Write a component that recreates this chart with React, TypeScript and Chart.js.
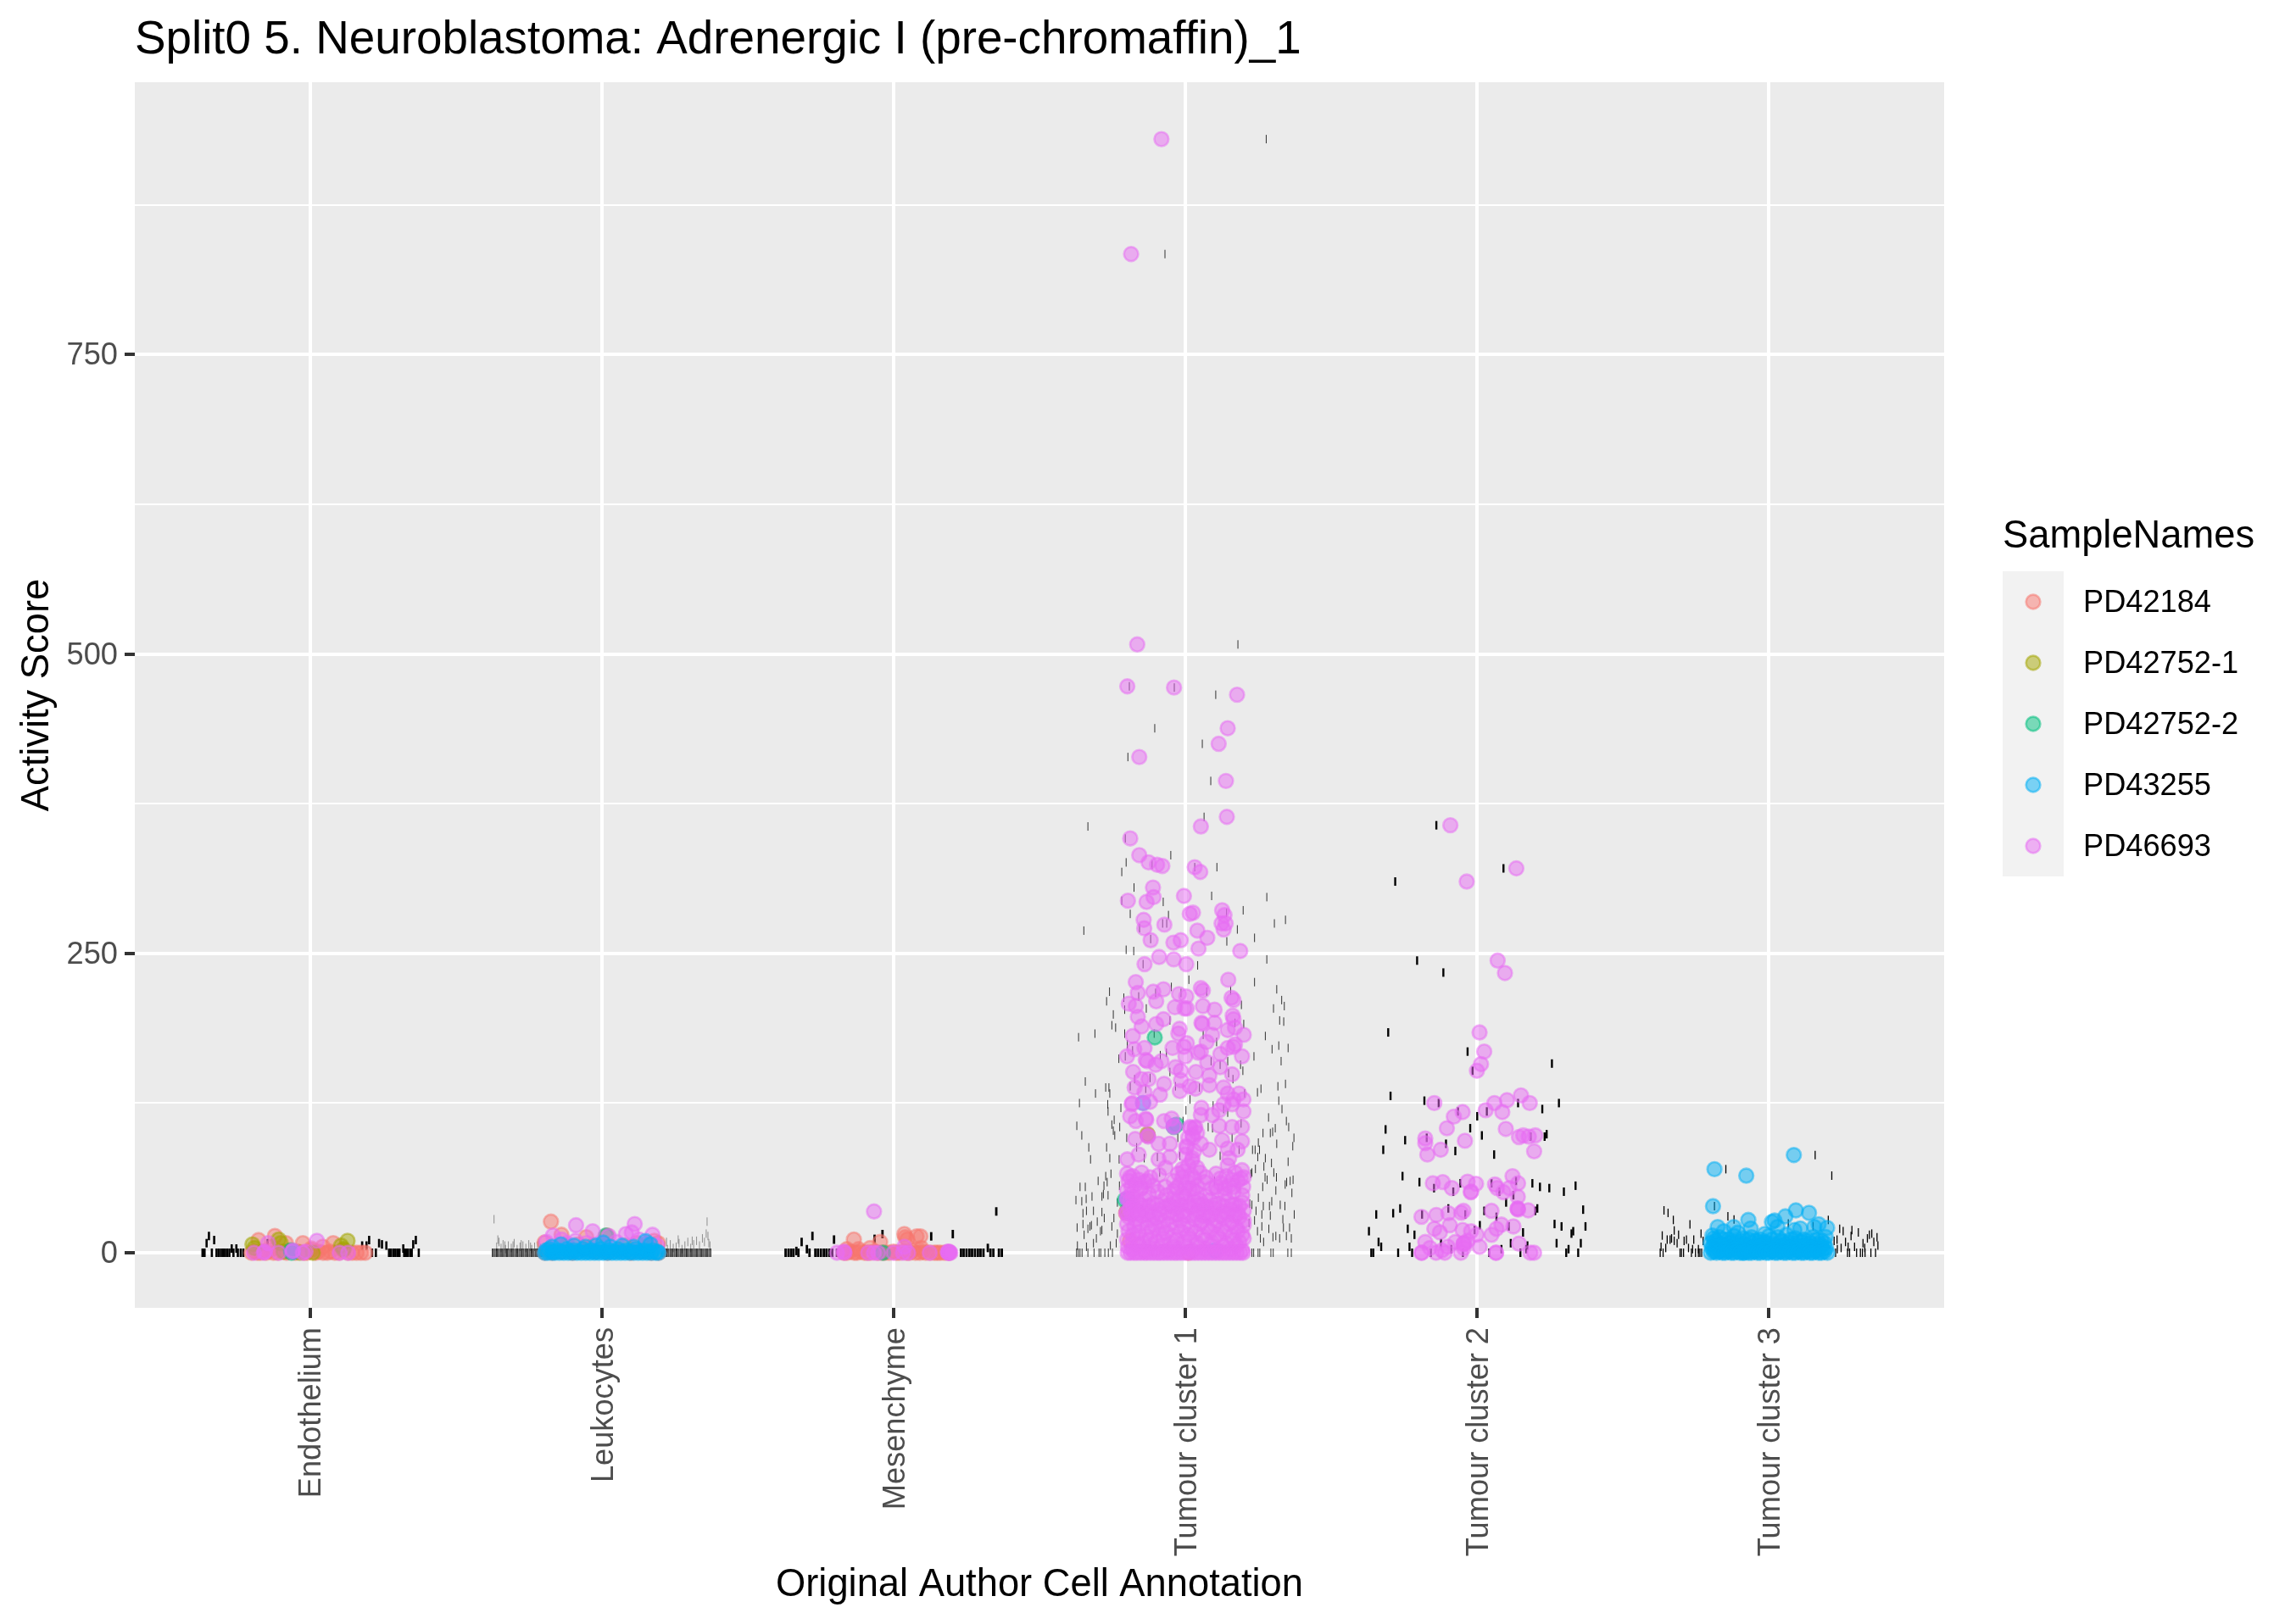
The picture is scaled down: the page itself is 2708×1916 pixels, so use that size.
import { useEffect, useRef } from 'react';
import { Chart, registerables } from 'chart.js';

Chart.register(...registerables);

type Pt = [number, number];

const categories = ['Endothelium', 'Leukocytes', 'Mesenchyme', 'Tumour cluster 1', 'Tumour cluster 2', 'Tumour cluster 3'];
const sampleNames = ['PD42184', 'PD42752-1', 'PD42752-2', 'PD43255', 'PD46693'];
const sampleColors = ['248,118,109', '163,165,0', '0,191,125', '0,176,246', '231,107,243'];
const yTicks = [0, 250, 500, 750];

// jittered points, x is category index + jitter, y is activity score
const pd42184: Pt[] = [
  [-.2,0],[-.19,1],[-.18,0],[-.17,0],[-.16,1],[-.15,0],[-.135,2],[-.125,0],[-.11,0],[-.095,1],[-.08,0],[-.07,2],[-.05,0],[-.04,1],[-.02,0],[-.01,0],[.005,2],[.02,0],[.03,1],[.045,0],[.06,0],[.07,1],[.085,0],[.1,0],[.115,2],[.13,0],[.145,0],[.16,0],[.175,0],[.19,0],
  [-.176,10.6],[-.12,14],[-.082,8],[-.024,8],[.08,8],[.044,5],[-.13,5],[.005,3.5],
  [.805,0],[.815,2],[.83,0],[.86,1],[.9,0],[.94,3],[.98,1],[1.02,0],[1.06,2],[1.1,0],[1.14,1],[1.17,0],[1.195,0],
  [.826,26],[.862,15],[.804,8.5],[.947,13],[1.018,14.4],[1.193,8],[1.18,10],[.88,6],[.92,7],[.97,6],[1.08,6],[1.12,8],[1.16,6],
  [1.864,11],[1.954,9],[2.037,15.6],[2.079,13.7],[2.092,13.7],[1.92,4],[1.84,3],[1.88,3],[2.095,4],[2.047,11],[2.04,13],
  [1.83,0],[1.84,0],[1.85,1],[1.865,0],[1.875,0],[1.885,1],[1.9,0],[1.91,0],[1.92,0],[1.935,1],[1.945,0],[1.96,0],[1.97,0],[1.985,0],[2,1],[2.01,0],[2.02,0],[2.03,1],[2.045,0],[2.055,0],[2.065,2],[2.075,0],[2.09,0],[2.1,1],[2.11,0],[2.125,0],[2.14,0],[2.15,0],[2.16,0],[2.175,0],[2.19,0],
  [2.871,98],[2.797,33],[2.81,10],[3.01,0],
];
const pd42752a: Pt[] = [
  [-.197,7],[-.19,4],[-.107,11],[-.1,8],[.129,10],[.107,6],[.115,3],[-.035,0],[-.09,1],[.01,0],
  [2.87,99],[2.8,35],
];
const pd42752b: Pt[] = [
  [-.063,0],[-.065,2],
  [1.014,14.4],
  [1.964,0],
  [2.895,179.8],[2.961,105],[2.792,44],[2.97,107],
];
const pd43255: Pt[] = [
  [-.058,1],
  [2.855,125],[2.96,106],[2.801,45],[3.1,2],
  [4.915,0],
  [5.085,81.6],[4.813,69.8],[4.922,64.4],[4.808,38.9],[4.929,27.4],[5.092,35.4],[5.137,33.3],[5.056,30.4],[5.019,26.9],[5.01,25.7],[5.17,23.8],[5.199,20.8],[5.155,21.5],[4.824,21.5],[4.879,21.5],[4.845,18],[4.806,14.4],[4.893,16.8],[4.937,20.3],[4.985,15.6],[5.029,21.5],[5.087,19],[5.107,20.3],[5.194,13.2],
  [4.81,12],[4.83,13],[4.86,11],[4.88,14],[4.91,12],[4.94,13],[4.97,11],[5,14],[5.03,13],[5.06,15],[5.09,12],[5.12,11],[5.15,13],[5.18,10],
  [4.815,10],[4.845,11],[4.875,9],[4.905,10],[4.93,11],[4.955,10],[4.985,9],[5.01,11],[5.045,10],[5.075,11],[5.105,9],[5.135,10],[5.165,11],
  [4.8,8],[4.82,9],[4.84,7],[4.865,8],[4.89,9],[4.915,7],[4.94,8],[4.965,9],[4.99,8],[5.015,7],[5.04,9],[5.065,8],[5.09,7],[5.115,9],[5.14,8],[5.165,7],[5.19,8],
  [4.81,6],[4.835,6],[4.855,5],[4.88,6],[4.905,6],[4.93,5],[4.955,6],[4.98,6],[5.005,5],[5.03,6],[5.055,6],[5.08,5],[5.105,6],[5.13,6],[5.155,5],[5.18,6],
  [4.805,4],[4.825,5],[4.85,3],[4.87,4],[4.895,5],[4.92,3],[4.945,4],[4.97,5],[4.995,3],[5.02,4],[5.045,5],[5.07,4],[5.095,3],[5.12,5],[5.145,4],[5.17,3],[5.195,4],
  [4.815,2],[4.84,2],[4.865,2],[4.885,3],[4.91,2],[4.935,2],[4.96,2],[4.985,3],[5.01,2],[5.035,2],[5.06,2],[5.085,3],[5.11,2],[5.135,2],[5.16,2],[5.185,3],
  [4.8,0],[4.81,1],[4.82,0],[4.83,1],[4.84,0],[4.85,0],[4.86,1],[4.87,0],[4.88,0],[4.89,1],[4.9,0],[4.91,0],[4.92,1],[4.93,0],[4.94,0],[4.95,1],[4.96,0],[4.97,0],[4.98,1],[4.99,0],[5,0],[5.01,1],[5.02,0],[5.03,0],[5.04,1],[5.05,0],[5.06,0],[5.07,1],[5.08,0],[5.09,0],[5.1,1],[5.11,0],[5.12,0],[5.13,1],[5.14,0],[5.15,0],[5.16,1],[5.17,0],[5.18,0],[5.19,1],[5.2,0],
];
// blue mass over the leukocyte column
const leukocyteBlue: Pt[] = [
  [.805,0],[.81,2],[.815,0],[.82,3],[.83,0],[.835,1],[.84,0],[.85,2],[.855,0],[.865,1],[.87,0],[.88,3],[.885,0],[.89,1],[.9,0],[.905,2],[.915,0],[.92,1],[.93,0],[.935,3],[.945,0],[.95,1],[.96,0],[.965,2],[.975,0],[.98,1],[.99,0],[.995,3],[1.005,0],[1.01,1],[1.02,0],[1.025,2],[1.035,0],[1.04,1],[1.05,0],[1.055,3],[1.065,0],[1.07,1],[1.08,0],[1.085,2],[1.095,0],[1.1,1],[1.11,0],[1.115,3],[1.125,0],[1.13,1],[1.14,0],[1.145,2],[1.155,0],[1.16,1],[1.17,0],[1.175,2],[1.185,0],[1.19,1],[1.195,0],
  [1.15,9.7],[1.005,8.5],[1.167,7],[1.07,6],[.86,7],[.905,6],[.945,5],[.83,5],[1.03,5],[1.11,5],[.98,6],
];
const leukocytePink: Pt[] = [
  [.912,23],[1.113,24],[.969,18],[.833,14.4],[1.083,15.6],[1.103,17],[1.174,15],[1.024,14],[.81,9],[.863,11],[.91,10],[.947,8],[1.128,11],[1.154,8],[1.19,6],[1.05,9],[1,8],[.88,8],
];
const pd46693: Pt[] = [
  [-.192,0],[-.158,0],[-.155,1],[-.107,0],[-.058,2],[-.06,1],[-.024,0],[-.015,1],[.102,0],[.131,0],[-.143,8],[.024,10],
  [1.933,34.5],[1.806,0],[1.832,0],[1.83,1],[1.913,0],[1.933,0],[1.947,0],[2,0],[2.032,0],[2.037,5],[2.05,0],[2.124,0],[2.187,0],[2.19,1],[2.188,0],[2.186,1],[2.192,0],[2.195,0],
  // upper part of tumour cluster 1
  [2.918,930],[2.814,834],[2.835,508],[2.801,473],[2.961,472],[3.177,466],[3.145,438],[3.114,425],[2.842,414],[3.139,394],[3.142,364],[3.053,356],[2.811,346],[2.842,332],[2.874,326],[2.903,324],[2.921,323],[3.032,322],[3.051,318],[2.889,305],[2.891,297],[2.995,298],[2.867,293],[2.803,294],[3.126,286],[3.134,282],[3.124,275],[3.138,275],[3.131,270],[3.026,284],[3.015,283],[2.857,278],[2.859,271],[2.928,274],[3.041,269],[3.075,263],[2.984,261],[2.959,259],[2.881,261],
  [3.045,254],[3.188,252],[2.91,247],[2.96,245],[3.003,241],[2.86,241],[2.83,226],[3.147,228],[2.837,217],[2.89,218],[2.925,220],[2.9,210],[2.978,216],[3.003,214],[3.053,221],[3.06,219],[3.158,213],[3.165,211],[2.806,208],[2.83,206],[2.964,205],[2.997,204],[3.005,204],[3.06,206],[3.1,203],[2.837,197],[2.925,195],[2.9,191],[2.85,189],[3.162,198],[3.165,195],[3.055,192],[3.058,191],[3.1,192],[2.98,187],[2.976,183],[3.145,186],[3.17,188],[3.092,182],[3.2,182],[2.82,181],[3.073,176],[3.005,175],[2.995,172],[3.17,174],[3.165,172],[2.825,170],[2.86,171],[2.956,171],[3.053,168],[3.044,167],[3.145,171],[3.12,166],[3.194,164],[2.8,164],[3,164],
  [2.864,161],[2.918,160],[2.898,157],[2.869,160],[3.075,159],[3.119,155],[2.821,151],[2.966,155],[2.984,152],[3.036,151],[3.16,149],[3.082,148],[2.85,145],[2.874,145],[2.927,141],[2.985,144],[3.082,140],[2.981,135],[3.034,137],[3.015,139],[2.826,138],[2.86,134],[2.913,132],[3.131,138],[3.145,133],[3.184,133],[3.165,128],[3.199,128],[2.816,124],[2.818,125],[2.855,125],[2.879,126],[3.055,121],[3.131,124],[3.16,124],[3.199,118],[2.811,114],[2.83,110],[2.864,112],[2.866,111],[3.053,115],[3.092,115],[3.116,119],[2.927,110],[2.953,112],[2.961,106],[2.96,105],[3.015,105],[3.018,104],[3.034,105],[3.032,104],[3.116,106],[3.16,105],[3.194,105],[2.828,95],[2.871,98],[2.872,97],[2.908,91],[2.947,91],[3.024,98],[3.026,96],[3.005,88],[3.003,89],[3.053,91],[3.126,94],[3.194,93],[3.082,86],[3.145,87],[3.179,86],[2.801,78],[2.84,82],[2.908,78],[2.947,80],[2.932,71],[3.024,79],[3.022,77],[3.145,73],[3.194,69],[3.15,79],
  [3.01,96],[3.04,100],[3.0,82],[3.03,85],[3.01,73],[3.04,71],[2.99,70],[2.8,45],[2.802,46],[2.798,33],[2.8,34],
  // dense base of tumour cluster 1
  [2.8,66],[2.82,64],[2.85,67],[2.88,63],[2.91,65],[2.975,66],[2.995,68],[3.02,65],[3.05,67],[3.07,63],[3.105,66],[3.14,64],[3.17,67],[3.2,63],
  [2.805,60],[2.83,57],[2.86,59],[2.89,56],[2.93,55],[2.96,60],[2.98,57],[3.01,59],[3.04,56],[3.065,59],[3.09,54],[3.12,58],[3.15,56],[3.18,60],[3.198,55],
  [2.81,63],[2.84,61],[2.87,60],[2.99,63],[3.03,62],[3.12,62],[3.16,61],[3.19,62],[2.815,55],[2.85,54],[2.97,54],[3,54],[3.025,53],[3.105,55],[3.135,54],[3.165,55],
  [2.8,52],[2.82,50],[2.845,53],[2.875,49],[2.905,51],[2.935,48],[2.96,52],[2.99,49],[3.015,53],[3.04,50],[3.07,47],[3.11,52],[3.135,49],[3.165,51],[3.195,48],[2.82,46],[2.96,45],[3,46],[3.05,44],
  [2.81,44],[2.835,42],[2.86,45],[2.89,41],[2.92,43],[2.945,40],[2.975,44],[3.005,41],[3.03,43],[3.06,40],[3.085,44],[3.115,41],[3.145,43],[3.17,40],[3.195,42],
  [2.82,39],[2.845,40],[2.875,39],[2.905,40],[2.93,38],[2.955,39],[2.985,40],[3.015,39],[3.045,40],[3.075,38],[3.1,40],[3.13,39],[3.16,40],[3.185,39],
  [2.81,37],[2.83,35],[2.855,38],[2.88,34],[2.91,36],[2.94,33],[2.965,37],[2.99,34],[3.02,38],[3.045,35],[3.07,33],[3.1,37],[3.13,34],[3.155,36],[3.18,33],[3.2,35],
  [2.805,30],[2.83,28],[2.85,31],[2.875,27],[2.9,29],[2.925,26],[2.95,30],[2.98,27],[3.005,31],[3.03,28],[3.055,26],[3.08,30],[3.105,27],[3.13,29],[3.16,26],[3.185,30],[3.2,27],
  [2.815,32],[2.84,33],[2.865,32],[2.89,31],[2.915,32],[2.97,32],[2.995,31],[3.035,32],[3.06,31],[3.09,32],[3.12,31],[3.145,32],[3.17,31],
  [2.8,24],[2.825,22],[2.845,25],[2.87,21],[2.895,23],[2.92,20],[2.945,24],[2.97,21],[2.995,23],[3.02,20],[3.05,24],[3.075,21],[3.1,23],[3.125,20],[3.15,24],[3.175,21],[3.2,23],
  [2.805,18],[2.82,15],[2.84,17],[2.865,14],[2.885,18],[2.91,15],[2.935,17],[2.96,14],[2.985,18],[3.01,15],[3.035,17],[3.06,14],[3.085,18],[3.11,15],[3.135,17],[3.16,14],[3.18,18],[3.195,15],
  [2.8,11],[2.82,9],[2.835,12],[2.855,8],[2.88,11],[2.9,9],[2.925,12],[2.95,8],[2.97,11],[2.995,9],[3.015,12],[3.04,8],[3.065,11],[3.09,9],[3.115,12],[3.14,8],[3.165,11],[3.185,9],[3.2,12],
  [2.803,5],[2.818,3],[2.84,6],[2.86,2],[2.875,5],[2.895,3],[2.92,6],[2.94,2],[2.96,5],[2.98,3],[3,6],[3.025,2],[3.045,5],[3.07,3],[3.09,6],[3.11,2],[3.13,5],[3.155,3],[3.175,6],[3.195,2],
  [2.802,0],[2.812,0],[2.824,0],[2.834,0],[2.846,0],[2.858,0],[2.868,0],[2.88,0],[2.892,0],[2.904,0],[2.914,0],[2.926,0],[2.938,0],[2.95,0],[2.962,0],[2.972,0],[2.984,0],[2.996,0],[3.008,0],[3.02,0],[3.032,0],[3.044,0],[3.056,0],[3.068,0],[3.08,0],[3.092,0],[3.104,0],[3.116,0],[3.128,0],[3.14,0],[3.152,0],[3.164,0],[3.176,0],[3.188,0],[3.198,0],
  // tumour cluster 2
  [3.908,357],[4.134,321],[3.964,310],[4.07,244],[4.095,233.6],[4.008,184],[4.024,168],[4.013,157.5],[3.999,152],[3.853,125],[3.95,117.5],[3.92,113.7],[3.896,104],[4.029,119],[4.059,125],[4.102,127.4],[4.15,131.4],[4.18,125],[4.086,117.5],[4.098,103.4],[3.822,95.5],[3.822,91.5],[3.829,82],[3.875,86],[3.958,93.5],[4.143,96.6],[4.158,98],[4.177,97],[4.199,98],[4.195,84.7],[4.121,64],[4.14,58],[3.848,58],[3.882,59],[3.913,54],[3.967,59.4],[3.996,57.6],[3.978,50.6],[3.979,51],[4.061,57],[4.068,54],[4.09,50.6],[4.11,54],[4.139,46.8],[4.138,36.7],[4.139,37],[4.14,36],[4.175,35.4],[3.809,30],[3.86,31.6],[3.901,33],[3.945,33.4],[3.953,35],[4.049,35],[3.853,20],[3.872,17],[3.906,23],[3.95,19],[3.979,18],[3.998,15],[4.049,15],[4.066,20],[4.083,23.5],[4.124,22],[3.822,9],[3.838,4],[3.925,9],[3.954,7.6],[3.955,8],[3.953,7],[3.967,10],[4.008,5],[4.143,7.6],[3.809,0],[3.81,0],[3.859,0],[3.879,2],[3.899,5],[3.889,0],[3.944,0],[3.954,4],[4.064,0],[4.065,0],[4.182,0],[4.195,0],
];

const endotheliumTicks: Pt[] = [
  [-.368,0],[-.361,0],[-.336,0],[-.32,0],[-.313,0],[-.305,0],[-.298,0],[-.291,0],[-.284,0],[-.276,0],[-.262,0],[-.247,0],[-.237,0],[-.228,0],[.213,0],[.226,0],[.271,0],[.278,0],[.286,0],[.293,0],[.3,0],[.307,0],[.323,0],[.329,0],[.336,0],[.344,0],[.349,0],[.373,0],
  [-.346,14],[-.354,8],[-.328,10.6],[-.268,3.5],[-.252,3.5],[.203,10.6],[.194,6],[.237,8],[.247,7],[.262,6],[.32,3.5],[.354,7],[.363,10.6],[-.145,8],[.179,6],
];
const leukocyteBase: Pt[] = [
  [.625,0],[.628,0],[.632,0],[.635,0],[.639,0],[.642,0],[.646,0],[.649,0],[.653,0],[.656,0],[.66,0],[.663,0],[.667,0],[.67,0],[.674,0],[.677,0],[.681,0],[.684,0],[.688,0],[.691,0],[.695,0],[.698,0],[.702,0],[.705,0],[.709,0],[.712,0],[.716,0],[.719,0],[.723,0],[.726,0],[.73,0],[.733,0],[.737,0],[.74,0],[.744,0],[.747,0],[.751,0],[.754,0],[.758,0],[.761,0],[.765,0],[.768,0],[.772,0],[.775,0],[.779,0],[.782,0],[.786,0],[.789,0],[.793,0],[.797,0],
  [1.202,0],[1.206,0],[1.209,0],[1.213,0],[1.216,0],[1.22,0],[1.223,0],[1.227,0],[1.23,0],[1.234,0],[1.237,0],[1.241,0],[1.244,0],[1.248,0],[1.251,0],[1.255,0],[1.258,0],[1.262,0],[1.265,0],[1.269,0],[1.272,0],[1.276,0],[1.279,0],[1.283,0],[1.286,0],[1.29,0],[1.293,0],[1.297,0],[1.3,0],[1.304,0],[1.307,0],[1.311,0],[1.314,0],[1.318,0],[1.321,0],[1.325,0],[1.328,0],[1.332,0],[1.335,0],[1.339,0],[1.342,0],[1.346,0],[1.349,0],[1.353,0],[1.356,0],[1.36,0],[1.363,0],[1.367,0],[1.37,0],[1.374,0],
];
const leukocyteRaised: Pt[] = [
  [.631,28],[.64,5],[.648,9],[.655,4],[.662,7],[.67,3],[.68,6],[.69,4],[.7,8],[.71,3],[.72,5],[.73,6],[.74,4],[.75,7],[.76,3],[.77,5],[.78,6],[.79,4],[.644,11],[.668,6],[.696,6],[.724,7],[.756,5],[.785,8],
  [1.205,4],[1.215,6],[1.225,3],[1.235,7],[1.245,4],[1.255,5],[1.265,8],[1.275,3],[1.285,6],[1.295,9],[1.305,4],[1.315,7],[1.325,10],[1.335,6],[1.345,12],[1.352,9],[1.358,16],[1.361,26],[1.364,14],[1.367,8],[1.371,6],[1.222,9],[1.262,11],[1.31,10],
];
const mesenchymeTicks: Pt[] = [
  [1.63,0],[1.64,0],[1.649,0],[1.657,0],[1.674,0],[1.712,0],[1.732,0],[1.741,0],[1.751,0],[1.761,0],[1.77,0],[1.78,0],[1.79,0],[1.806,0],[2.231,0],[2.24,0],[2.25,0],[2.26,0],[2.269,0],[2.279,0],[2.289,0],[2.298,0],[2.308,0],[2.332,0],[2.342,0],[2.361,0],[2.371,0],
  [1.685,9],[1.722,14],[1.796,11],[1.703,3],[1.667,1.5],[1.935,11.6],[1.962,15.6],[2.129,13.7],[2.203,15.6],[2.352,34.5],[2.323,4],
];
const tumour1Ticks: Pt[] = [
  [3.277,930],[2.93,834],[3.18,508],[2.808,473],[2.962,472],[3.104,466],[2.895,438],[3.058,425],[2.803,414],[3.087,394],[3.064,364],[2.666,356],[2.794,346],[2.95,332],[2.797,326],[2.886,324],[3.032,322],[3.108,322],[2.782,318],[2.824,305],[3.09,298],[3.279,297],[2.782,294],[2.924,293],[2.811,283],[2.942,282],[3.198,286],[3.141,284],[3.343,278],[3.305,275],[2.922,275],[2.936,275],[2.843,271],[2.652,269],[3.178,270],[3.237,263],[3.142,260],[2.881,262],
  [2.797,253],[2.823,252],[2.855,241],[3.279,245],[3.042,240],[3.012,228],[3.237,226],[2.74,218],[2.789,213],[2.73,210],[2.84,214],[2.898,217],[2.952,222],[2.985,217],[3.073,218],[3.155,219],[3.192,207],[3.313,220],[3.33,211],[3.339,206],[3.302,204],[2.866,204],[2.792,203],[2.753,199],[2.748,190],[2.761,188],[2.69,183],[2.634,180],[2.792,183],[2.893,183],[2.947,194],[3.2,191],[3.17,192],[3.323,194],[3.337,193],[3.274,181],[3.061,182],[3.107,176],[3.32,173],[3.352,171],[3.297,170],[2.801,174],[2.819,169],[2.772,162],[2.794,164],[2.935,167],[2.914,165],[3.235,164],[3.328,160],[3.145,160],[3.189,157],[3.197,152],[3.148,150],[3.163,145],[2.657,143],[2.727,138],[2.738,138],[2.741,133],[2.692,133],[2.826,145],[2.879,146],[2.811,139],[2.864,137],[2.947,151],[3.088,160],[3.119,157],[2.966,139],[3.247,134],[3.259,137],[3.317,139],[3.343,141],[3.203,133],[3.048,138],
  [2.637,125],[2.734,124],[2.735,118],[2.779,121],[3.016,128],[3.002,119],[3.095,123],[3.32,127],[3.331,120],[3.131,120],[3.145,117],[2.992,110],[2.756,111],[2.748,107],[2.753,102],[2.758,98],[2.775,105],[2.628,106],[2.645,98],[2.799,96],[2.974,96],[3.285,113],[3.346,110],[3.354,105],[3.191,108],[3.078,105],[3.093,104],[2.669,88],[2.73,88],[2.833,88],[3.372,96],[3.313,91],[3.266,100],[3.291,100],[3.299,101],[3.308,104],[3.25,92],[3.368,89],[3.23,86],[3.239,86],[3.254,86],[3.16,96],[3.184,86],
  [2.675,78],[2.741,79],[2.773,78],[2.859,79],[2.904,80],[3.119,81],[2.981,81],[3.274,79],[3.295,75],[3.352,76],[3.248,80],[3.24,70],[3.228,67],[3.224,66],[3.269,72],[3.303,67],[3.312,63],[3.273,63],[3.28,61],[2.727,64],[2.701,60],[2.745,66],[2.732,59],[2.639,55],[2.657,55],[2.721,56],[2.774,56],[2.912,67],[3.1,60],[3.31,52],[3.265,55],[3.359,60],[3.347,59],[3.369,61],[3.342,57],[3.365,50],
  [2.625,44],[2.645,43],[2.66,45],[2.68,47],[2.714,47],[2.735,48],[2.719,49],[2.767,42],[3.228,40],[3.25,46],[3.267,39],[3.296,43],[3.288,39],[3.325,40],[3.341,39],[3.221,41],[2.661,35],[2.685,35],[2.649,33],[2.714,34],[2.755,29],[2.722,29],[3.291,31],[3.334,28],[3.373,32],[3.262,32],[3.242,35],[3.218,25],[2.698,26],[2.678,23],[2.649,24],[2.629,21],[2.673,22],[2.666,20],[2.714,19],[2.748,22],[2.767,16],[3.237,27],[3.262,22],[3.286,20],[3.31,14],[3.336,21],[3.357,21],
  [2.653,15],[2.695,12],[2.709,18],[2.685,8],[2.763,8],[2.743,6],[2.661,5],[2.63,6],[3.257,12],[3.268,9],[3.3,13],[3.323,12],[3.346,14],[3.363,12],[3.247,18],
  [2.627,0],[2.633,0],[2.639,0],[2.646,0],[2.666,0],[2.687,0],[2.704,0],[2.71,0],[2.724,0],[2.736,0],[2.75,0],[3.228,0],[3.234,0],[3.249,0],[3.255,0],[3.293,0],[3.301,0],[3.351,0],[3.363,0],
];
const tumour2Ticks: Pt[] = [
  [3.86,357],[4.09,321],[3.719,310],[3.794,244],[3.884,234],[3.695,184],[3.967,168],[4.256,158],[3.984,152],[3.703,131],[3.819,127],[3.868,125],[4.14,125],[4.28,125],[4.223,120],[3.934,118],[4.033,118],[4,114],[3.686,103],[3.976,104],[3.753,94],[3.827,96],[4.016,98],[4.183,97],[4.231,97],[4.238,99],[3.893,91],[3.678,86],[3.925,85],[4.058,82],[3.744,64],[3.802,59],[3.942,58],[4.049,58],[4.133,60],[4.189,58],[4.215,55],[4.247,54],[4.297,51],[4.337,56],[3.852,54],[3.918,51],[4.076,51],[4.124,48],[4.099,42],[3.736,37],[3.901,37],[4.206,37],[4.363,36],[3.654,32],[3.712,33],[3.811,32],[3.959,32],[4.024,35],[4.066,30],[4.199,35],[3.629,18],[3.762,20],[3.785,15],[3.991,19],[4.009,23],[4.108,22],[4.157,17],[4.265,24],[4.289,22],[4.371,22],[4.323,16],[4.329,18],[3.662,9],[3.671,5],[3.768,5],[3.876,8],[3.911,3],[4.115,8],[4.172,6],[4.272,8],[4.355,8],[4.083,3],[4.168,3],[4.313,3],[3.637,0],[3.644,0],[3.729,0],[3.777,0],[3.841,0],[3.951,0],[4.041,0],[4.148,0],[4.305,0],[4.346,0],
];
const tumour3Ticks: Pt[] = [
  [5.158,81.6],[4.852,69.8],[5.215,64.4],[4.813,38.9],[4.64,35.4],[4.654,33.3],[4.672,27.4],[4.729,23.8],[4.859,30.4],[4.88,27.8],[5.203,27.4],[5.151,22.2],[5.066,24.5],[4.675,18.6],[4.634,14.4],
  [4.651,11],[4.661,11],[4.666,12],[4.69,15],[4.709,10],[4.717,11],[4.742,11],[4.767,16],[4.774,10],[4.63,5],[4.646,4],[4.675,10],[4.685,8],[4.724,4],[4.738,3],[4.758,3],
  [5.242,20],[5.254,18],[5.284,19],[5.281,14],[5.306,17],[5.344,15],[5.352,16],[5.37,13],[5.337,12],[5.322,8],[5.359,9],[5.373,6],[5.233,11],[5.223,10],[5.262,9],[5.247,4],[5.234,3],[5.271,5],[5.293,5],[5.328,4],
  [4.627,0],[4.637,0],[4.695,0],[4.7,0],[4.707,0],[4.734,0],[4.748,0],[4.758,0],[4.763,0],[4.769,0],[5.228,0],[5.269,0],[5.276,0],[5.3,0],[5.313,0],[5.32,0],[5.329,0],[5.349,0],[5.365,0],
];

const FONT = '"Liberation Sans", Arimo, Helvetica, Arial, sans-serif';
const toXY = (pts: Pt[]) => pts.map(([x, y]) => ({ x, y }));

const circles = (label: string, pts: Pt[], rgb: string) => ({
  label,
  data: toXY(pts),
  pointStyle: 'circle',
  pointRadius: 8.4,
  pointBorderWidth: 2.6,
  pointBackgroundColor: `rgba(${rgb},0.5)`,
  pointBorderColor: `rgba(${rgb},0.5)`,
});

const ticks = (label: string, pts: Pt[], width: number) => ({
  label,
  data: toXY(pts),
  pointStyle: 'line',
  pointRotation: 90,
  pointRadius: 5,
  pointBorderWidth: width,
  pointBorderColor: '#000000',
  pointBackgroundColor: '#000000',
});

// panel background, title and the ggplot style legend
const ggDecor = {
  id: 'ggDecor',
  beforeDraw(chart: Chart) {
    const { ctx, chartArea: a } = chart;
    ctx.save();
    ctx.fillStyle = '#EBEBEB';
    ctx.fillRect(a.left, a.top, a.right - a.left, a.bottom - a.top);
    ctx.restore();
  },
  afterDraw(chart: Chart) {
    const { ctx } = chart;
    ctx.save();
    ctx.fillStyle = '#000000';
    ctx.textBaseline = 'alphabetic';
    ctx.font = `54.8px ${FONT}`;
    ctx.fillText('Split0 5. Neuroblastoma: Adrenergic I (pre-chromaffin)_1', 159, 63);

    ctx.font = `45.3px ${FONT}`;
    ctx.fillText('SampleNames', 2362, 646);

    ctx.fillStyle = '#F2F2F2';
    ctx.fillRect(2362, 674, 72, 360);
    sampleNames.forEach((name, i) => {
      const cy = 710 + i * 72;
      ctx.beginPath();
      ctx.arc(2398, cy, 8.4, 0, Math.PI * 2);
      ctx.fillStyle = `rgba(${sampleColors[i]},0.5)`;
      ctx.fill();
      ctx.lineWidth = 2.6;
      ctx.strokeStyle = `rgba(${sampleColors[i]},0.5)`;
      ctx.stroke();
      ctx.fillStyle = '#000000';
      ctx.font = `36.2px ${FONT}`;
      ctx.textBaseline = 'middle';
      ctx.fillText(name, 2457, cy + 2);
    });
    ctx.restore();
  },
};

export default function App() {
  const canvasRef = useRef<HTMLCanvasElement | null>(null);

  useEffect(() => {
    if (!canvasRef.current) return;

    // first in the list is painted first
    const layers: any[] = [
      ticks('Endothelium ticks', endotheliumTicks, 2.6),
      ticks('Leukocytes ticks', leukocyteBase, 0.8),
      ticks('Leukocytes raised ticks', leukocyteRaised, 0.4),
      ticks('Mesenchyme ticks', mesenchymeTicks, 2.8),
      ticks('Tumour cluster 1 ticks', tumour1Ticks, 0.8),
      ticks('Tumour cluster 2 ticks', tumour2Ticks, 2.4),
      ticks('Tumour cluster 3 ticks', tumour3Ticks, 1.3),
      circles(sampleNames[0], pd42184, sampleColors[0]),
      circles(sampleNames[1], pd42752a, sampleColors[1]),
      circles(sampleNames[2], pd42752b, sampleColors[2]),
      circles(sampleNames[4] + ' leukocytes', leukocytePink, sampleColors[4]),
      circles(sampleNames[3], pd43255, sampleColors[3]),
      circles(sampleNames[3] + ' leukocytes', leukocyteBlue, sampleColors[3]),
      circles(sampleNames[4], pd46693, sampleColors[4]),
    ];
    layers.forEach((d, i) => (d.order = layers.length - i));

    const chart = new Chart(canvasRef.current, {
      type: 'scatter',
      data: { datasets: layers },
      plugins: [ggDecor],
      options: {
        animation: false,
        responsive: false,
        devicePixelRatio: 1,
        layout: { padding: { left: 0, right: 415, top: 97, bottom: 0 } },
        plugins: { legend: { display: false }, tooltip: { enabled: false }, title: { display: false } },
        scales: {
          x: {
            type: 'linear',
            min: -0.6,
            max: 5.6,
            border: { display: false },
            afterFit: (scale: any) => { scale.height = 373; },
            grid: { color: '#FFFFFF', lineWidth: 4, tickColor: '#333333', tickWidth: 4, tickLength: 12 },
            ticks: {
              stepSize: 1,
              autoSkip: false,
              includeBounds: false,
              minRotation: 90,
              maxRotation: 90,
              padding: 11,
              labelOffset: 3,
              color: '#4D4D4D',
              font: { family: FONT, size: 36.2 },
              callback: (v: any) => categories[v] ?? '',
            },
            title: {
              display: true,
              text: 'Original Author Cell Annotation',
              color: '#000000',
              font: { family: FONT, size: 45.3 },
              padding: { top: 0, bottom: 18 },
            },
          },
          y: {
            type: 'linear',
            min: -46,
            max: 977.5,
            border: { display: false },
            afterFit: (scale: any) => { scale.width = 159; },
            grid: {
              color: '#FFFFFF',
              lineWidth: (c: any) => (yTicks.includes(c.tick?.value) ? 4 : 2),
              tickColor: (c: any) => (yTicks.includes(c.tick?.value) ? '#333333' : 'transparent'),
              tickWidth: 4,
              tickLength: 12,
            },
            ticks: {
              stepSize: 125,
              includeBounds: false,
              autoSkip: false,
              padding: 8,
              labelOffset: 2,
              color: '#4D4D4D',
              font: { family: FONT, size: 36.2 },
              callback: (v: any) => (yTicks.includes(v) ? String(v) : ''),
            },
            title: {
              display: true,
              text: 'Activity Score',
              color: '#000000',
              font: { family: FONT, size: 45.3 },
              padding: { top: 17, bottom: 0 },
            },
          },
        },
      },
    } as any);

    return () => chart.destroy();
  }, []);

  return (
    <div style={{ position: 'absolute', left: 0, top: 0, width: 2708, height: 1916, background: '#FFFFFF' }}>
      <canvas ref={canvasRef} width={2708} height={1916} style={{ width: 2708, height: 1916, display: 'block' }} />
    </div>
  );
}
